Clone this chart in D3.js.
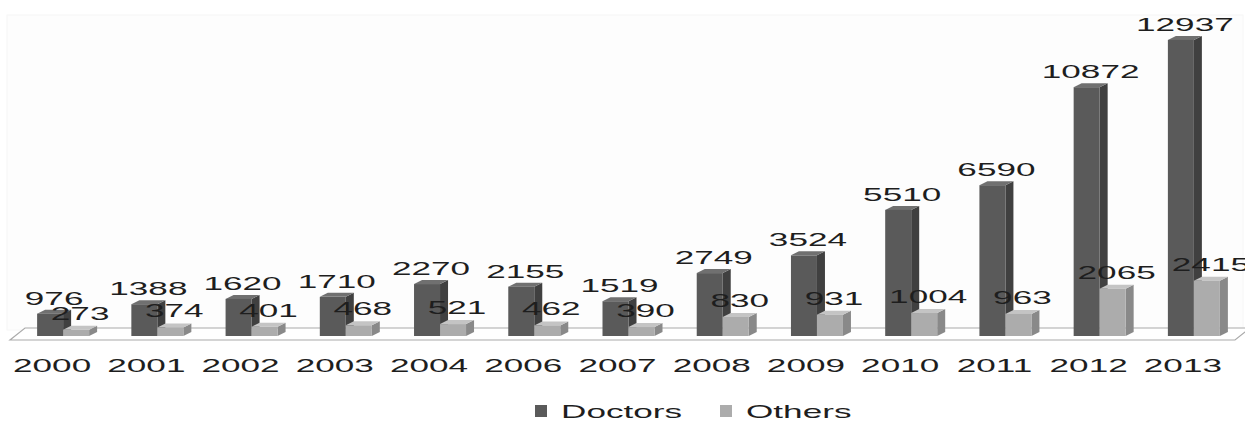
<!DOCTYPE html>
<html>
<head>
<meta charset="utf-8">
<script src="https://cdn.jsdelivr.net/npm/d3@7"></script>
<style>
body { margin: 0; background: #fff; }
text { font-family: "Liberation Sans", Arial, sans-serif; fill: #1e1e1e; }
</style>
</head>
<body>
<script>
var years = ["2000", "2001", "2002", "2003", "2004", "2006", "2007", "2008", "2009", "2010", "2011", "2012", "2013"];
var doctors = [976, 1388, 1620, 1710, 2270, 2155, 1519, 2749, 3524, 5510, 6590, 10872, 12937];
var others = [273, 374, 401, 468, 521, 462, 390, 830, 931, 1004, 963, 2065, 2415];
var seriesNames = ["Doctors", "Others"];

var W = 1245, H = 421;
var stretch = 1.9; // the picture is stretched sideways, text too
var fs = 18.5;
var dx = 8, dy = -4; // bar depth
var barW = 26;
var shift = 11; // bars sit back in the floor, so they move right

var colors = {
	Doctors: { front: "#5a5a5a", side: "#404040", top: "#707070" },
	Others: { front: "#acacac", side: "#898989", top: "#c4c4c4" }
};

var svg = d3.select("body").append("svg")
	.attr("width", W)
	.attr("height", H);

var x = d3.scaleBand().domain(years).range([5, 1230]).padding(0);
var y = d3.scaleLinear().domain([0, 13000]).range([336, 38.5]);

// faint back wall
svg.append("rect")
	.attr("x", 7).attr("y", 15)
	.attr("width", 1236).attr("height", 315)
	.attr("fill", "#fdfdfd")
	.attr("stroke", "#f6f6f6");

// floor
svg.append("path")
	.attr("d", "M10,340 L1235,340 L1250,328 L25,328 Z")
	.attr("fill", "#fff")
	.attr("stroke", "#aaaaaa")
	.attr("stroke-width", 1.2);

function bar(g, x0, v, c) {
	var yt = y(v), yb = y(0);
	// side
	g.append("path")
		.attr("d", ["M", x0 + barW, yb, "L", x0 + barW + dx, yb + dy, "L", x0 + barW + dx, yt + dy, "L", x0 + barW, yt, "Z"].join(" "))
		.attr("fill", c.side);
	// top
	g.append("path")
		.attr("d", ["M", x0, yt, "L", x0 + dx, yt + dy, "L", x0 + barW + dx, yt + dy, "L", x0 + barW, yt, "Z"].join(" "))
		.attr("fill", c.top);
	// front
	g.append("rect")
		.attr("x", x0).attr("y", yt)
		.attr("width", barW).attr("height", yb - yt)
		.attr("fill", c.front);
}

function label(t, cx, cy) {
	return svg.append("text")
		.attr("transform", "translate(" + cx + "," + cy + ") scale(" + stretch + ",1)")
		.attr("text-anchor", "middle")
		.attr("font-size", fs + "px")
		.text(t);
}

var bars = svg.append("g");
years.forEach(function (yr, i) {
	var pc = x(yr) + x.bandwidth() / 2 + shift;
	bar(bars, pc - barW, doctors[i], colors.Doctors);
	bar(bars, pc, others[i], colors.Others);
});

// value labels drawn after all bars
years.forEach(function (yr, i) {
	var pc = x(yr) + x.bandwidth() / 2 + shift;
	label(doctors[i], pc - barW / 2 + 4, y(doctors[i]) - 9);
	label(others[i], pc + barW / 2 + 4, y(others[i]) - 10);
});

// category labels
years.forEach(function (yr) {
	label(yr, x(yr) + x.bandwidth() / 2, 372);
});

// legend
var legX = [535, 720];
seriesNames.forEach(function (s, i) {
	svg.append("rect")
		.attr("x", legX[i]).attr("y", 405)
		.attr("width", 12).attr("height", 12)
		.attr("fill", colors[s].front);
	svg.append("text")
		.attr("transform", "translate(" + (legX[i] + 26) + ",418) scale(" + stretch + ",1)")
		.attr("font-size", fs + "px")
		.text(s);
});
</script>
</body>
</html>
